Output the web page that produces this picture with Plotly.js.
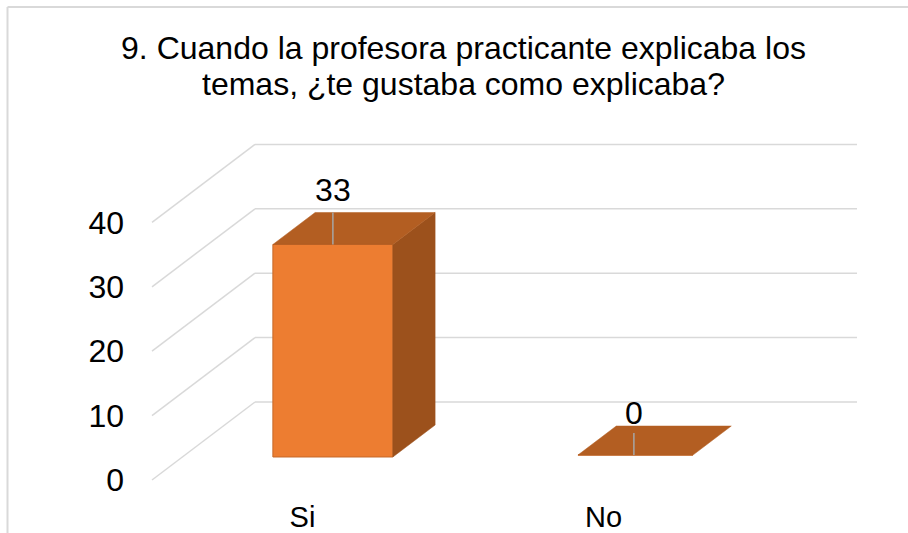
<!DOCTYPE html>
<html><head><meta charset="utf-8">
<script src="https://cdn.plot.ly/plotly-3.0.1.min.js"></script>
<style>html,body{margin:0;padding:0;background:#fff}#c{width:908px;height:533px}</style>
</head><body><div id="c"></div>
<script>
const categories = ["Si", "No"];
const values = [33, 0];
const yTicks = [0, 10, 20, 30, 40];
const titleLine1 = "9. Cuando la profesora practicante explicaba los";
const titleLine2 = "temas, ¿te gustaba como explicaba?";

// Page frame of the plotting area and the scale of the axes, in pixels
const W = 908, H = 533, L = 125, R = 0, T = 130, B = 36;
const pxPerCat = 301, pxPerUnit = 6.44, x0px = 302.5, y0px = 480;
// Oblique projection: how far one full unit of depth moves a point, in axis units
const DX = 103 / pxPerCat, DY = 78 / pxPerUnit;
const frontD = [0.295, 0.32], backD = [0.705, 0.692], halfPx = [60, 57.5], catShiftPx = [0, -1];
const leaderD = 0.295, labelLift = [51, 39], leaderLen = [32, 22];
const FONT = "Liberation Sans, Arial, sans-serif";
const GRID = "#d9d9d9", FRONT = "#ED7D31", SIDE = "#9C511C", TOP = "#B35E22", EDGE = "#C5682A";

const xRange = [(L - x0px) / pxPerCat, (W - R - x0px) / pxPerCat];
const yRange = [(y0px - (H - B)) / pxPerUnit, (y0px - T) / pxPerUnit];
const px = p => (p - L) / (W - L - R), py = p => 1 - (p - T) / (H - T - B);
const P = (c, d, v) => [c + d * DX, v + d * DY];
const poly = (pts, color) => ({
  type: "scatter", mode: "lines", fill: "toself", fillcolor: color,
  x: pts.concat([pts[0]]).map(p => p[0]), y: pts.concat([pts[0]]).map(p => p[1]),
  line: {color: color, width: 0.5}, hoverinfo: "skip"
});

// Grid sits below every trace: back wall lines and the diagonals that run to the front
const gridShapes = [];
yTicks.forEach(v => {
  const gridLine = (x0, y0, x1, y1) => ({type: "line", xref: "x", yref: "y", layer: "below",
    x0, y0, x1, y1, line: {color: GRID, width: 1.5}});
  gridShapes.push(gridLine(-0.5, v, -0.5 + DX, v + DY));
  gridShapes.push(gridLine(-0.5 + DX, v + DY, 1.5 + DX, v + DY));
});

const traces = [];
// Bars: front face is a real bar trace, side and top faces are projected from the same values
values.forEach((v, i) => {
  const c = i + catShiftPx[i] / pxPerCat, hw = halfPx[i] / pxPerCat;
  const a = c - hw, b = c + hw, f = frontD[i], k = backD[i];
  if (v > 0) traces.push(poly([P(b, f, 0), P(b, k, 0), P(b, k, v), P(b, f, v)], SIDE));
  traces.push(poly([P(a, f, v), P(b, f, v), P(b, k, v), P(a, k, v)], TOP));
});
traces.push({type: "bar",
  x: values.map((v, i) => i + catShiftPx[i] / pxPerCat + frontD[i] * DX), y: values,
  base: values.map((v, i) => frontD[i] * DY), width: halfPx.map(h => 2 * h / pxPerCat),
  marker: {color: FRONT, line: {color: EDGE, width: 1}}, hoverinfo: "skip"});
// Leader lines and value labels
values.forEach((v, i) => {
  const lx = i + leaderD * DX, ly = v + frontD[i] * DY;
  traces.push({type: "scatter", mode: "lines", hoverinfo: "skip",
    x: [lx, lx], y: [ly, ly + leaderLen[i] / pxPerUnit],
    line: {color: "#a6a6a6", width: 1.5}});
  traces.push({type: "scatter", mode: "text", hoverinfo: "skip",
    x: [lx], y: [ly + labelLift[i] / pxPerUnit], text: [String(v)],
    textposition: "middle center", textfont: {family: FONT, size: 32, color: "#000"}, cliponaxis: false});
});

const layout = {
  width: W, height: H, showlegend: false, hovermode: false, barmode: "overlay",
  paper_bgcolor: "#fff", plot_bgcolor: "rgba(0,0,0,0)",
  margin: {l: L, r: R, t: T, b: B, pad: 0},
  title: {text: titleLine1, font: {family: FONT, size: 32, color: "#000"},
    xref: "container", yref: "container", x: 463.5 / W, xanchor: "center", y: 1 - 48 / H, yanchor: "middle"},
  annotations: [{text: titleLine2, showarrow: false, xref: "paper", yref: "paper",
    x: px(463), y: py(84), xanchor: "center", yanchor: "middle",
    font: {family: FONT, size: 32, color: "#000"}}],
  xaxis: {range: xRange, tickmode: "array", tickvals: categories.map((c, i) => i), ticktext: categories,
    showgrid: false, zeroline: false, showline: false, ticks: "",
    tickfont: {family: FONT, size: 29, color: "#000"}, fixedrange: true},
  yaxis: {range: yRange, tickmode: "array", tickvals: yTicks, ticktext: yTicks.map(String),
    showgrid: false, zeroline: false, showline: false, ticks: "",
    tickfont: {family: FONT, size: 32, color: "#000"}, fixedrange: true},
  shapes: gridShapes.concat([
    {type: "line", xref: "paper", yref: "paper", x0: px(7.5), x1: px(7.5), y0: py(7), y1: py(533), line: {color: GRID, width: 2}},
    {type: "line", xref: "paper", yref: "paper", x0: px(7.5), x1: px(908), y0: py(7), y1: py(7), line: {color: GRID, width: 2}}
  ])
};
Plotly.newPlot("c", traces, layout, {displayModeBar: false, staticPlot: true});
</script></body></html>
